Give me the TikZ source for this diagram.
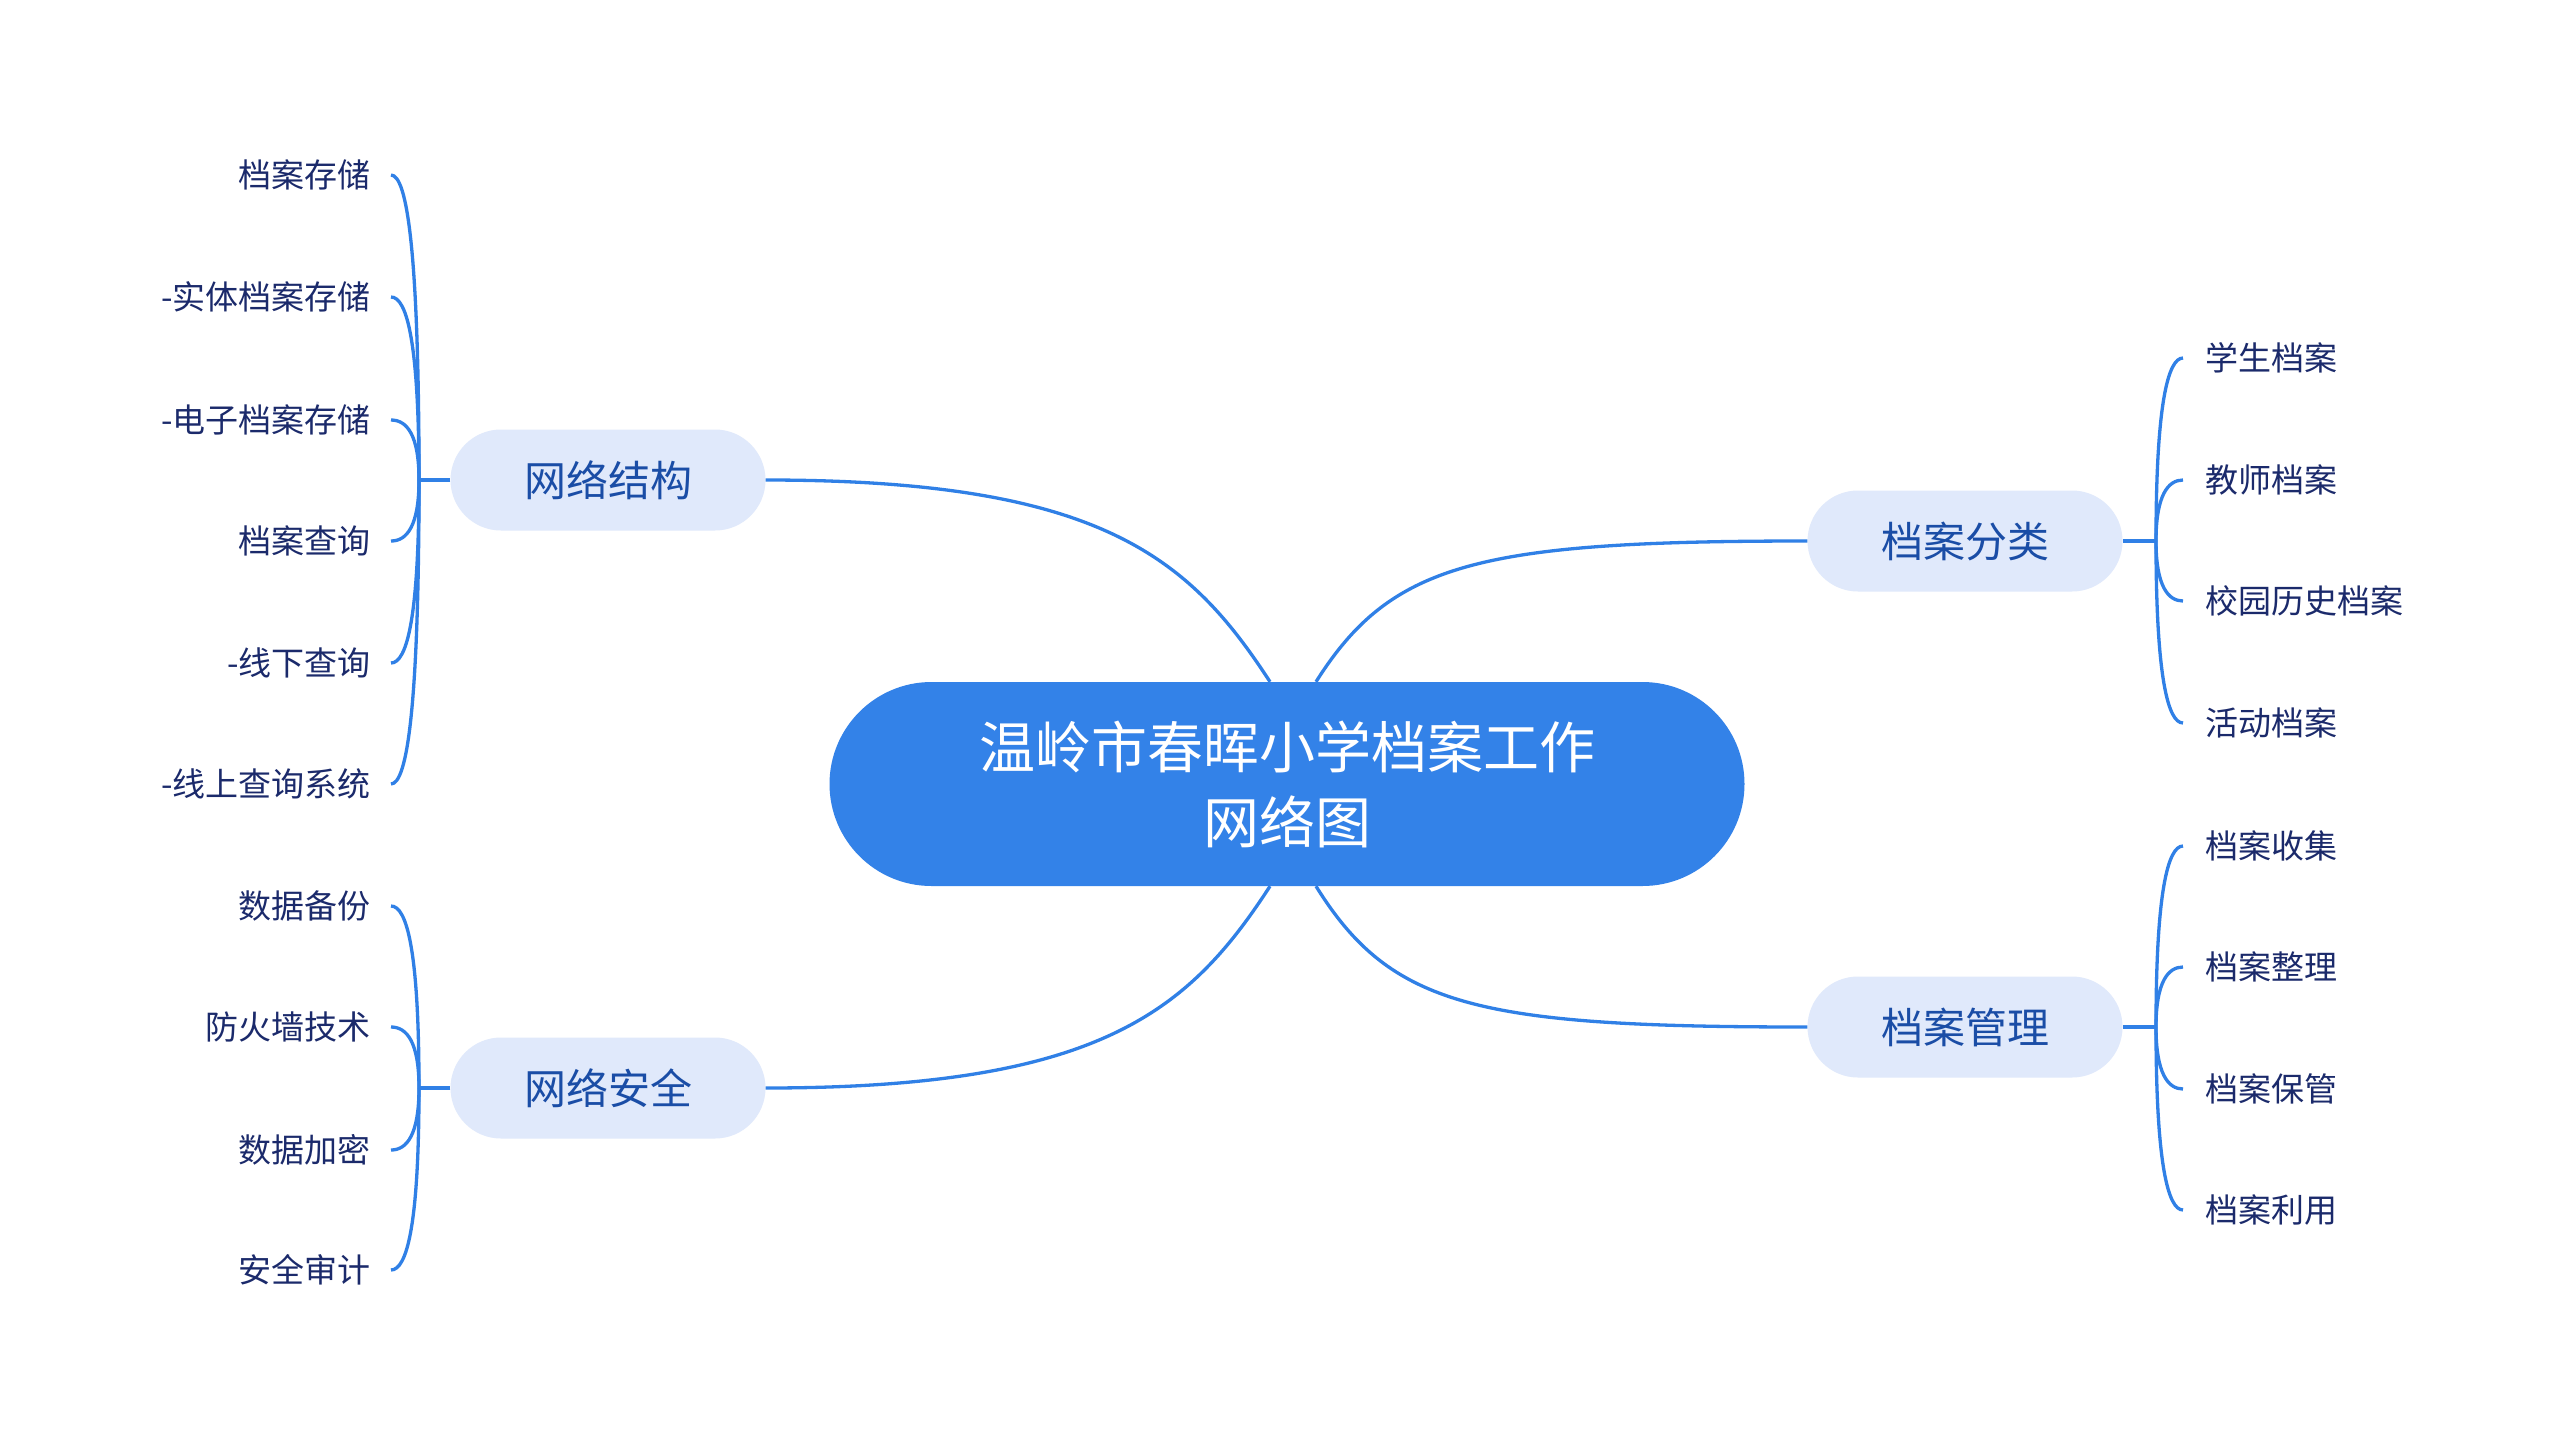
\documentclass[tikz,border=0pt]{standalone}
\usepackage{fontspec}
\setmainfont{Noto Sans CJK SC}
\usetikzlibrary{calc,shapes.misc}
\definecolor{lineblue}{HTML}{3080E6}
\definecolor{rootfill}{HTML}{3382E8}
\definecolor{subfill}{HTML}{E0E9FB}
\definecolor{subtext}{HTML}{1A4DA6}
\definecolor{leaftext}{HTML}{1B2A6B}
\begin{document}
\begin{tikzpicture}[x=1pt,y=-1pt,
  conn/.style={draw=lineblue,line width=3.3pt},
  rootbox/.style={shape=rounded rectangle,fill=rootfill,minimum width=915pt,minimum height=204pt,text=white,font=\fontsize{56}{75}\selectfont,align=center,inner sep=0pt},
  subbox/.style={shape=rounded rectangle,fill=subfill,minimum width=315pt,minimum height=101pt,text=subtext,font=\fontsize{42}{50}\selectfont,inner sep=0pt},
  leafl/.style={anchor=east,text=leaftext,font=\fontsize{33}{40}\selectfont,inner xsep=20pt,inner ysep=0pt},
  leafr/.style={anchor=west,text=leaftext,font=\fontsize{33}{40}\selectfont,inner xsep=22pt,inner ysep=0pt}]
\useasboundingbox (0,0) rectangle (2560,1446);
\fill[white] (0,0) rectangle (2560,1446);

% root and main topics
\node[rootbox] (c) at (1287,784) {温岭市春晖小学档案工作\\网络图};
\node[subbox] (jg) at (608,480) {网络结构};
\node[subbox] (aq) at (608,1088) {网络安全};
\node[subbox] (fl) at (1965,541) {档案分类};
\node[subbox] (gl) at (1965,1027) {档案管理};

% trunk junctions
\coordinate (jgT) at (419,480);
\coordinate (aqT) at (419,1088);
\coordinate (flT) at (2156,541);
\coordinate (glT) at (2156,1027);

% leaves left top
\node[leafl] (l1) at (391,175) {档案存储};
\node[leafl] (l2) at (391,297) {-实体档案存储};
\node[leafl] (l3) at (391,420) {-电子档案存储};
\node[leafl] (l4) at (391,541) {档案查询};
\node[leafl] (l5) at (391,663) {-线下查询};
\node[leafl] (l6) at (391,784) {-线上查询系统};
% leaves left bottom
\node[leafl] (s1) at (391,906) {数据备份};
\node[leafl] (s2) at (391,1027) {防火墙技术};
\node[leafl] (s3) at (391,1150) {数据加密};
\node[leafl] (s4) at (391,1270) {安全审计};
% leaves right top
\node[leafr] (r1) at (2183,358) {学生档案};
\node[leafr] (r2) at (2183,480) {教师档案};
\node[leafr] (r3) at (2183,601) {校园历史档案};
\node[leafr] (r4) at (2183,723) {活动档案};
% leaves right bottom
\node[leafr] (m1) at (2183,846) {档案收集};
\node[leafr] (m2) at (2183,967) {档案整理};
\node[leafr] (m3) at (2183,1089) {档案保管};
\node[leafr] (m4) at (2183,1210) {档案利用};

% root connectors
\draw[conn] (jg.east) .. controls (1100,480) and (1189,557) .. ($(c.north)+(-17,0)$);
\draw[conn] (fl.west) .. controls (1478,541) and (1391,563) .. ($(c.north)+(29,0)$);
\draw[conn] (aq.east) .. controls (1100,1088) and (1189,1011) .. ($(c.south)+(-17,0)$);
\draw[conn] (gl.west) .. controls (1478,1027) and (1391,1007) .. ($(c.south)+(29,0)$);

% stubs
\draw[conn] (jg.west) -- (jgT);
\draw[conn] (aq.west) -- (aqT);
\draw[conn] (fl.east) -- (flT);
\draw[conn] (gl.east) -- (glT);

% left brackets
\foreach \n/\y in {l1/175,l2/297,l3/420,l4/541,l5/663,l6/784}
  \draw[conn] (jgT) .. controls (419,{480+0.75*(\y-480)}) and (407,\y) .. (\n.east);
\foreach \n/\y in {s1/906,s2/1027,s3/1150,s4/1270}
  \draw[conn] (aqT) .. controls (419,{1088+0.75*(\y-1088)}) and (407,\y) .. (\n.east);
% right brackets
\foreach \n/\y in {r1/358,r2/480,r3/601,r4/723}
  \draw[conn] (flT) .. controls (2156,{541+0.75*(\y-541)}) and (2168,\y) .. (\n.west);
\foreach \n/\y in {m1/846,m2/967,m3/1089,m4/1210}
  \draw[conn] (glT) .. controls (2156,{1027+0.75*(\y-1027)}) and (2168,\y) .. (\n.west);
\end{tikzpicture}
\end{document}
